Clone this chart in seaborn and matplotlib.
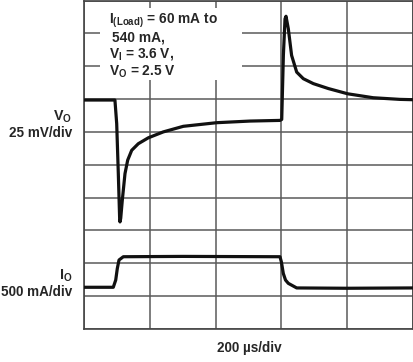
import matplotlib
matplotlib.use("Agg")
import matplotlib.pyplot as plt
import seaborn as sns
import pandas as pd
from matplotlib.patches import Rectangle

# Time in microseconds (200 us/div), values in screen divisions (0 = bottom, 10 = top)
vo_time = [0, 94, 99.4, 104.3, 108.5, 109.4, 111.6, 116.4, 124.6, 132.8, 145, 165,
           195.4, 241, 301.8, 403, 504.6, 595.7, 601, 606, 611, 614, 621, 631,
           646.5, 666.6, 697, 742.6, 801.5, 879, 960, 1000]
vo_div = [6.97, 6.97, 6.25, 4.73, 3.31, 3.26, 3.37, 3.92, 4.73, 5.14, 5.44, 5.64,
          5.82, 6.0, 6.17, 6.28, 6.33, 6.35, 6.38, 8.33, 9.44, 9.52, 9.14, 8.33,
          7.82, 7.62, 7.47, 7.32, 7.16, 7.04, 6.99, 6.98]

io_time = [0, 89, 96.4, 101.2, 106.4, 119.5, 300, 595.7, 600, 605.8, 612.5, 621,
           646.5, 800, 1000]
io_div = [1.27, 1.27, 1.49, 1.84, 2.10, 2.20, 2.21, 2.20, 2.04, 1.69, 1.49, 1.39,
          1.25, 1.24, 1.25]

x_divs = [0, 200, 400, 600, 800, 1000]
y_divs = list(range(11))

sns.set_style("white")
plt.rcParams["font.family"] = ["Liberation Sans", "DejaVu Sans"]
plt.rcParams["mathtext.fontset"] = "custom"
plt.rcParams["mathtext.rm"] = "Liberation Sans:bold"
plt.rcParams["mathtext.it"] = "Liberation Sans:bold"
plt.rcParams["mathtext.bf"] = "Liberation Sans:bold"

fig = plt.figure(figsize=(4.14, 3.62), dpi=100)
ax = fig.add_axes([84 / 414, 33 / 362, 329 / 414, 328.5 / 362])

vo = pd.DataFrame({"t": vo_time, "v": vo_div})
io = pd.DataFrame({"t": io_time, "v": io_div})
sns.lineplot(data=vo, x="t", y="v", ax=ax, color="#111111", lw=2.3, sort=False, zorder=5)
sns.lineplot(data=io, x="t", y="v", ax=ax, color="#111111", lw=2.3, sort=False, zorder=5)

ax.set_xlim(0, 1000)
ax.set_ylim(0, 10)
ax.set_xticks(x_divs)
ax.set_yticks(y_divs)
ax.grid(True, color="#5a5a5a", lw=1.1)
ax.tick_params(length=0, labelbottom=False, labelleft=False)
ax.set_xlabel("")
ax.set_ylabel("")
for s in ax.spines.values():
    s.set_color("#444444")
    s.set_linewidth(1.2)
ax.set_axisbelow(True)

# white panel behind annotation text
ax.add_patch(Rectangle((48.5, 7.57), 431, 2.2, facecolor="white", edgecolor="none", zorder=2))

fs_box = 9.9
ax.text(0.076, 0.931, r"I$_{\rm (Load)}$ = 60 mA to", transform=ax.transAxes,
        fontsize=fs_box, fontweight="bold", va="baseline", ha="left", zorder=6)
ax.text(0.084, 0.876, "540 mA,", transform=ax.transAxes,
        fontsize=fs_box, fontweight="bold", va="baseline", ha="left", zorder=6)
ax.text(0.076, 0.826, r"V$_{\rm I}$ = 3.6 V,", transform=ax.transAxes,
        fontsize=fs_box, fontweight="bold", va="baseline", ha="left", zorder=6)
ax.text(0.076, 0.772, r"V$_{\rm O}$ = 2.5 V", transform=ax.transAxes,
        fontsize=fs_box, fontweight="bold", va="baseline", ha="left", zorder=6)

fs = 9.75
fig.text(72 / 414, 1 - 121 / 362, r"V$_{\rm O}$", fontsize=fs + 0.5, fontweight="bold",
         ha="right", va="baseline")
fig.text(72 / 414, 1 - 137 / 362, "25 mV/div", fontsize=fs, fontweight="bold",
         ha="right", va="baseline")
fig.text(72 / 414, 1 - 280 / 362, r"I$_{\rm O}$", fontsize=fs + 0.5, fontweight="bold",
         ha="right", va="baseline")
fig.text(72 / 414, 1 - 296.5 / 362, "500 mA/div", fontsize=fs, fontweight="bold",
         ha="right", va="baseline")
fig.text(249 / 414, 1 - 352 / 362, "200 µs/div", fontsize=fs, fontweight="bold",
         ha="center", va="baseline")

fig.savefig("out.png", dpi=100)
